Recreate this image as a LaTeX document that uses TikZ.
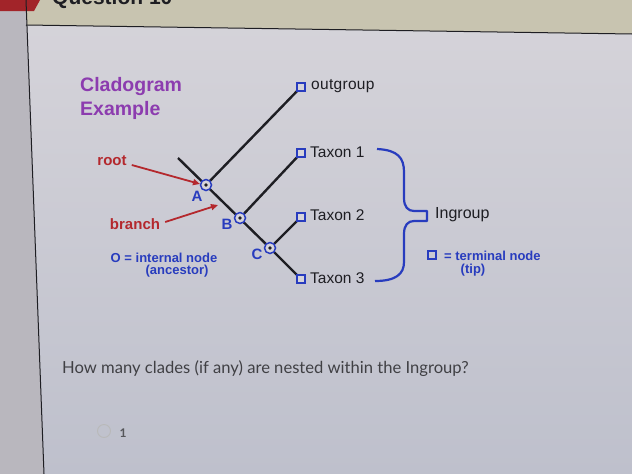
\documentclass[tikz,border=0pt]{standalone}
\usepackage{fontspec}
\setmainfont{Liberation Sans}
\newfontfamily\latofont{Lato}
\usetikzlibrary{arrows.meta}
\definecolor{bgmain}{RGB}{214,212,218}
\definecolor{bgbot}{RGB}{190,192,204}
\definecolor{bgtop}{RGB}{200,196,176}
\definecolor{bgleft}{RGB}{185,183,190}
\definecolor{cpurple}{RGB}{140,60,175}
\definecolor{cblue}{RGB}{40,60,190}
\definecolor{cred}{RGB}{180,40,45}
\definecolor{ctext}{RGB}{30,30,35}
\tikzset{
  branchline/.style={line width=2.4pt, ctext},
  inode/.style={circle, draw=cblue, line width=1.5pt, minimum size=11pt, inner sep=0pt, fill=bgmain},
  tipbox/.style={rectangle, draw=cblue, line width=1.2pt, minimum size=8pt, inner sep=0pt},
  tiplabel/.style={anchor=west, font=\fontsize{15.5}{17}\selectfont, text=ctext, inner sep=0pt},
  letterlab/.style={font=\bfseries\fontsize{15}{17}\selectfont, text=cblue, inner sep=0pt},
  redlab/.style={font=\bfseries\fontsize{15}{17}\selectfont, text=cred, inner sep=0pt},
  redarrow/.style={-{Triangle[length=7pt,width=6pt]}, line width=1.8pt, cred},
  bluelab/.style={font=\bfseries\fontsize{13}{14}\selectfont, text=cblue, inner sep=0pt}
}
\begin{document}
\begin{tikzpicture}[x=1pt,y=-1pt]
\useasboundingbox (0,0) rectangle (632,474);
% background
\shade[top color=bgmain, bottom color=bgbot] (0,0) rectangle (632,474);
\fill[bgtop] (26,0) -- (632,0) -- (632,34) -- (26,25) -- cycle;
\fill[bgleft] (0,0) -- (26,0) -- (44,474) -- (0,474) -- cycle;
\fill[cred!90!black] (0,0) -- (40,0) -- (34,11) -- (0,11) -- cycle;
\draw[line width=1pt, ctext] (26,25) -- (632,34);
\draw[line width=1pt, ctext] (26,0) -- (44,474);
\node[anchor=base west, font=\bfseries\fontsize{21}{22}\selectfont, text=ctext, inner sep=0pt] (qtitle) at (52,4) {Question 10};
% title
\node[anchor=west, font=\bfseries\fontsize{19.5}{24}\selectfont, text=cpurple, inner sep=0pt, align=left] (title) at (80,98) {Cladogram\\Example};
% tips
\node[tipbox] (tout) at (301,87) {};
\node[tipbox] (t1) at (301,153) {};
\node[tipbox] (t2) at (301,217) {};
\node[tipbox] (t3) at (301,279) {};
\coordinate (root) at (178,158);
% tree
\draw[branchline] (root) -- (270,248) -- (t3.center);
\draw[branchline] (206,185) -- (tout.center);
\draw[branchline] (240,218) -- (t1.center);
\draw[branchline] (270,248) -- (t2.center);
\node[tipbox, fill=bgmain] at (tout) {};
\node[tipbox, fill=bgmain] at (t1) {};
\node[tipbox, fill=bgmain] at (t2) {};
\node[tipbox, fill=bgmain] at (t3) {};
\node[inode] (A) at (206,185) {};
\node[inode] (B) at (240,218) {};
\node[inode] (C) at (270,248) {};
\fill[ctext] (A) circle (1.8pt) (B) circle (1.8pt) (C) circle (1.8pt);
\node[letterlab] (lA) at (197,196) {A};
\node[letterlab] (lB) at (227,224) {B};
\node[letterlab] (lC) at (257,254) {C};
% tip labels
\node[tiplabel] (lout) at (311,86) {o\kern0.3pt u\kern0.3pt t\kern0.3pt g\kern0.3pt r\kern0.3pt o\kern0.3pt u\kern0.3pt p};
\node[tiplabel] (l1) at (310,152) {Taxon 1};
\node[tiplabel] (l2) at (310,215) {Taxon 2};
\node[tiplabel] (l3) at (310,278) {Taxon 3};
% root and branch labels
\node[redlab] (rootlab) at (112,161) {root};
\node[redlab] (branchlab) at (135,224) {branch};
\coordinate (rootend) at (200,184);
\coordinate (branchend) at (218,205);
\draw[redarrow] (rootlab.east) ++(5,4) -- (rootend);
\draw[redarrow] (branchlab.east) ++(5,-2) -- (branchend);
% internal node legend
\node[bluelab] (ilegend) at (164,258) {O = internal node};
\node[bluelab] (ilegend2) at (177,271) {(ancestor)};
% brace
\draw[cblue, line width=2.2pt, line join=round]
  (377,149) .. controls (398,150) and (404,158) .. (404,172)
  -- (404,198) .. controls (404,207) and (408,211) .. (414,211)
  -- (427,211) -- (427,221) -- (414,221)
  .. controls (408,221) and (404,225) .. (404,234)
  -- (404,262) .. controls (404,274) and (396,281) .. (375,281);
\node[anchor=west, font=\fontsize{16}{17}\selectfont, text=ctext, inner sep=0pt] (ingroup) at (435,215) {Ingroup};
\node[tipbox] (tlegbox) at (432,255) {};
\node[bluelab, anchor=west] (tlegend) at (444,256) {= terminal node};
\node[bluelab] (tlegend2) at (473,270) {(tip)};
% question
\node[anchor=base west, font=\latofont\fontsize{16.6}{18}\selectfont, text=ctext!85, inner sep=0pt] (question) at (62,373) {How many clades (if any) are nested within the Ingroup?};
\node[circle, draw=gray!55, line width=0.9pt, minimum size=13pt, inner sep=0pt] (radio) at (104,431) {};
\node[font=\latofont\bfseries\fontsize{12}{14}\selectfont, text=ctext!75, inner sep=0pt] (one) at (123,433) {1};
\end{tikzpicture}
\end{document}
